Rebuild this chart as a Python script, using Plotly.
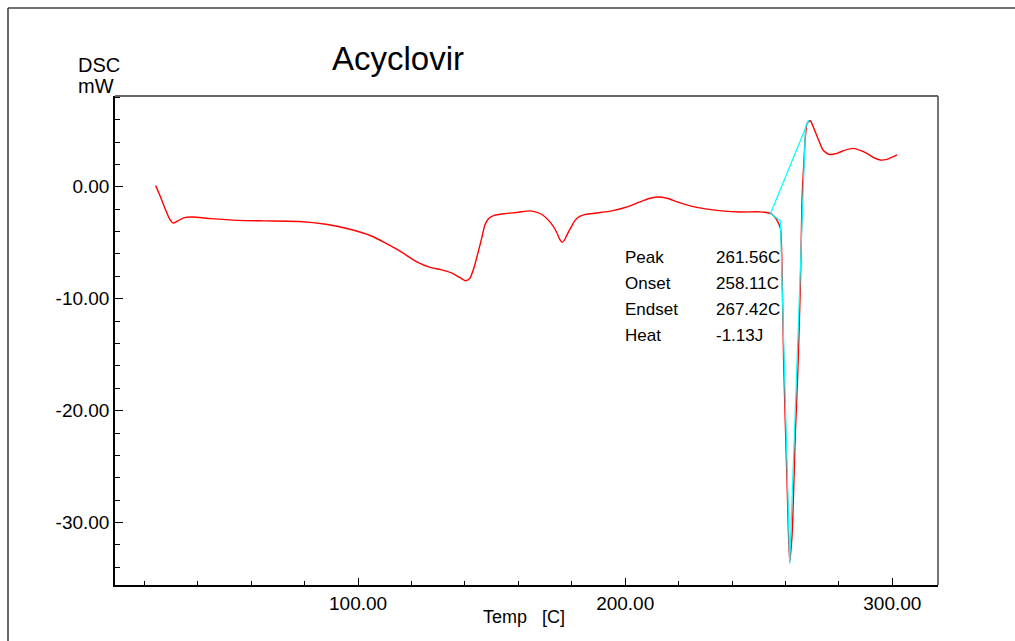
import plotly.graph_objects as go

# ---- data ----
temp_c = [24.2, 25.5, 27.5, 29.5, 30.8, 32.5, 35, 38, 45, 55, 65, 78, 88, 97, 105, 110,
          116, 122, 127, 131, 135, 138, 140.2, 141.8, 143.3, 145, 146.4, 147.5, 148.9,
          151, 155, 160, 164, 166.4, 169, 172, 174.2, 175.5, 176.4, 177.3, 178.2, 180,
          181.3, 183, 185.1, 190, 195, 200, 205, 209, 212, 216, 220, 225, 230, 236, 243,
          250.6, 254.4, 256, 256.8, 258.1, 258.7, 259.3, 260.6, 261.56, 262.5, 263.7,
          264.6, 265.6, 266.2, 266.8, 268.1, 269.3, 270.5, 272.4, 274, 276.2, 279.3,
          282, 285.5, 288, 290.5, 293, 295.5, 298, 301.8]
dsc_mw = [0.1, -0.6, -1.8, -2.9, -3.25, -3.05, -2.75, -2.7, -2.85, -3.0, -3.05, -3.1,
          -3.35, -3.8, -4.4, -5.0, -5.8, -6.7, -7.2, -7.4, -7.7, -8.1, -8.4, -8.2, -7.3,
          -5.8, -4.47, -3.4, -2.83, -2.55, -2.4, -2.28, -2.15, -2.24, -2.5, -3.18, -4.0,
          -4.7, -4.97, -4.75, -4.3, -3.5, -2.98, -2.65, -2.47, -2.32, -2.15, -1.85, -1.4,
          -1.05, -0.92, -1.05, -1.4, -1.75, -1.98, -2.15, -2.25, -2.24, -2.38, -2.7,
          -2.98, -3.7, -7.16, -15.5, -26.5, -33.5, -31.0, -22.0, -16.7, -8.6, -1.2, 1.79,
          5.67, 5.9, 5.3, 4.18, 3.3, 2.9, 2.99, 3.25, 3.43, 3.25, 2.99, 2.6, 2.39, 2.45,
          2.84]

# peak-analysis outline (baseline + tangents)
peak_t = [254.4, 258.1, 261.6, 267.5, 268.7, 254.4]
peak_v = [-2.38, -3.04, -33.66, 5.37, 5.94, -2.38]

result_labels = ["Peak", "Onset", "Endset", "Heat"]
result_values = ["261.56C", "258.11C", "267.42C", "-1.13J"]

x_tickvals = [100, 200, 300]
x_ticktext = ["100.00", "200.00", "300.00"]
y_tickvals = [0, -10, -20, -30]
y_ticktext = ["0.00", "-10.00", "-20.00", "-30.00"]

title_text = "Acyclovir"
y_title_lines = ["DSC", "mW"]
x_title_text = "Temp\u00a0\u00a0\u00a0[C]"

# ---- layout geometry ----
W, H = 1015, 641
ML, MR, MT, MB = 115, 77, 96, 56
PW = W - ML - MR
PH = H - MT - MB


def px(x):
    return (x - ML) / PW


def py(y):
    return (H - MB - y) / PH


FONT = "Liberation Sans, Arial, sans-serif"

fig = go.Figure()
fig.add_trace(go.Scatter(x=temp_c, y=dsc_mw, mode="lines",
                         line=dict(color="#ff0000", width=1.4, shape="spline", smoothing=0.6),
                         hoverinfo="skip", showlegend=False))
fig.add_trace(go.Scatter(x=peak_t, y=peak_v, mode="lines",
                         line=dict(color="#00ffff", width=1.2),
                         hoverinfo="skip", showlegend=False))

annotations = []
label_rows_y = [-6.29, -8.6, -10.95, -13.27]
for lab, val, yv in zip(result_labels, result_values, label_rows_y):
    annotations.append(dict(x=199.3, y=yv, xref="x", yref="y", text=lab, showarrow=False,
                            xanchor="left", yanchor="middle",
                            font=dict(family=FONT, size=17, color="#000")))
    annotations.append(dict(x=233.4, y=yv, xref="x", yref="y", text=val, showarrow=False,
                            xanchor="left", yanchor="middle",
                            font=dict(family=FONT, size=17, color="#000")))

annotations.append(dict(x=px(397.5), y=py(59), xref="paper", yref="paper", text=title_text,
                        showarrow=False, xanchor="center", yanchor="middle",
                        font=dict(family=FONT, size=33, color="#000")))
annotations.append(dict(x=px(76), y=py(65), xref="paper", yref="paper", text=y_title_lines[0],
                        showarrow=False, xanchor="left", yanchor="middle",
                        font=dict(family=FONT, size=20, color="#000")))
annotations.append(dict(x=px(76), y=py(86), xref="paper", yref="paper", text=y_title_lines[1],
                        showarrow=False, xanchor="left", yanchor="middle",
                        font=dict(family=FONT, size=20, color="#000")))
annotations.append(dict(x=px(481), y=py(617), xref="paper", yref="paper", text=x_title_text,
                        showarrow=False, xanchor="left", yanchor="middle",
                        font=dict(family=FONT, size=18, color="#000")))

shapes = [
    # outer frame (left + top)
    dict(type="line", xref="paper", yref="paper", x0=px(8), x1=px(8), y0=py(8), y1=py(645),
         line=dict(color="#444", width=1.6)),
    dict(type="line", xref="paper", yref="paper", x0=px(8), x1=px(1020), y0=py(8), y1=py(8),
         line=dict(color="#444", width=1.6)),
    # plot box top + right
    dict(type="line", xref="paper", yref="paper", x0=0, x1=1, y0=1, y1=1,
         line=dict(color="#666", width=1.8)),
    dict(type="line", xref="paper", yref="paper", x0=1, x1=1, y0=0, y1=1,
         line=dict(color="#666", width=1.8)),
]

fig.update_layout(
    width=W, height=H,
    margin=dict(l=ML, r=MR, t=MT, b=MB, pad=0),
    paper_bgcolor="white", plot_bgcolor="white",
    showlegend=False,
    annotations=annotations,
    shapes=shapes,
    font=dict(family=FONT, size=18, color="#000"),
)
fig.update_xaxes(range=[9.0, 317.1], showgrid=False, zeroline=False,
                 showline=True, linecolor="#000", linewidth=1.5,
                 tickmode="array", tickvals=x_tickvals, ticktext=x_ticktext,
                 ticks="inside", ticklen=7, tickwidth=1.2, tickcolor="#000",
                 tickfont=dict(family=FONT, size=19, color="#000"),
                 minor=dict(tickmode="linear", tick0=0, dtick=20, ticks="inside",
                            ticklen=4, tickwidth=1, tickcolor="#000"))
fig.update_yaxes(range=[-35.58, 8.11], showgrid=False, zeroline=False,
                 showline=True, linecolor="#000", linewidth=1.5,
                 tickmode="array", tickvals=y_tickvals, ticktext=y_ticktext,
                 ticks="inside", ticklen=8, tickwidth=1.2, tickcolor="#000",
                 tickfont=dict(family=FONT, size=19, color="#000"),
                 minor=dict(tickmode="linear", tick0=0, dtick=2, ticks="inside",
                            ticklen=5, tickwidth=1, tickcolor="#000"))

fig.write_html("out.html")
